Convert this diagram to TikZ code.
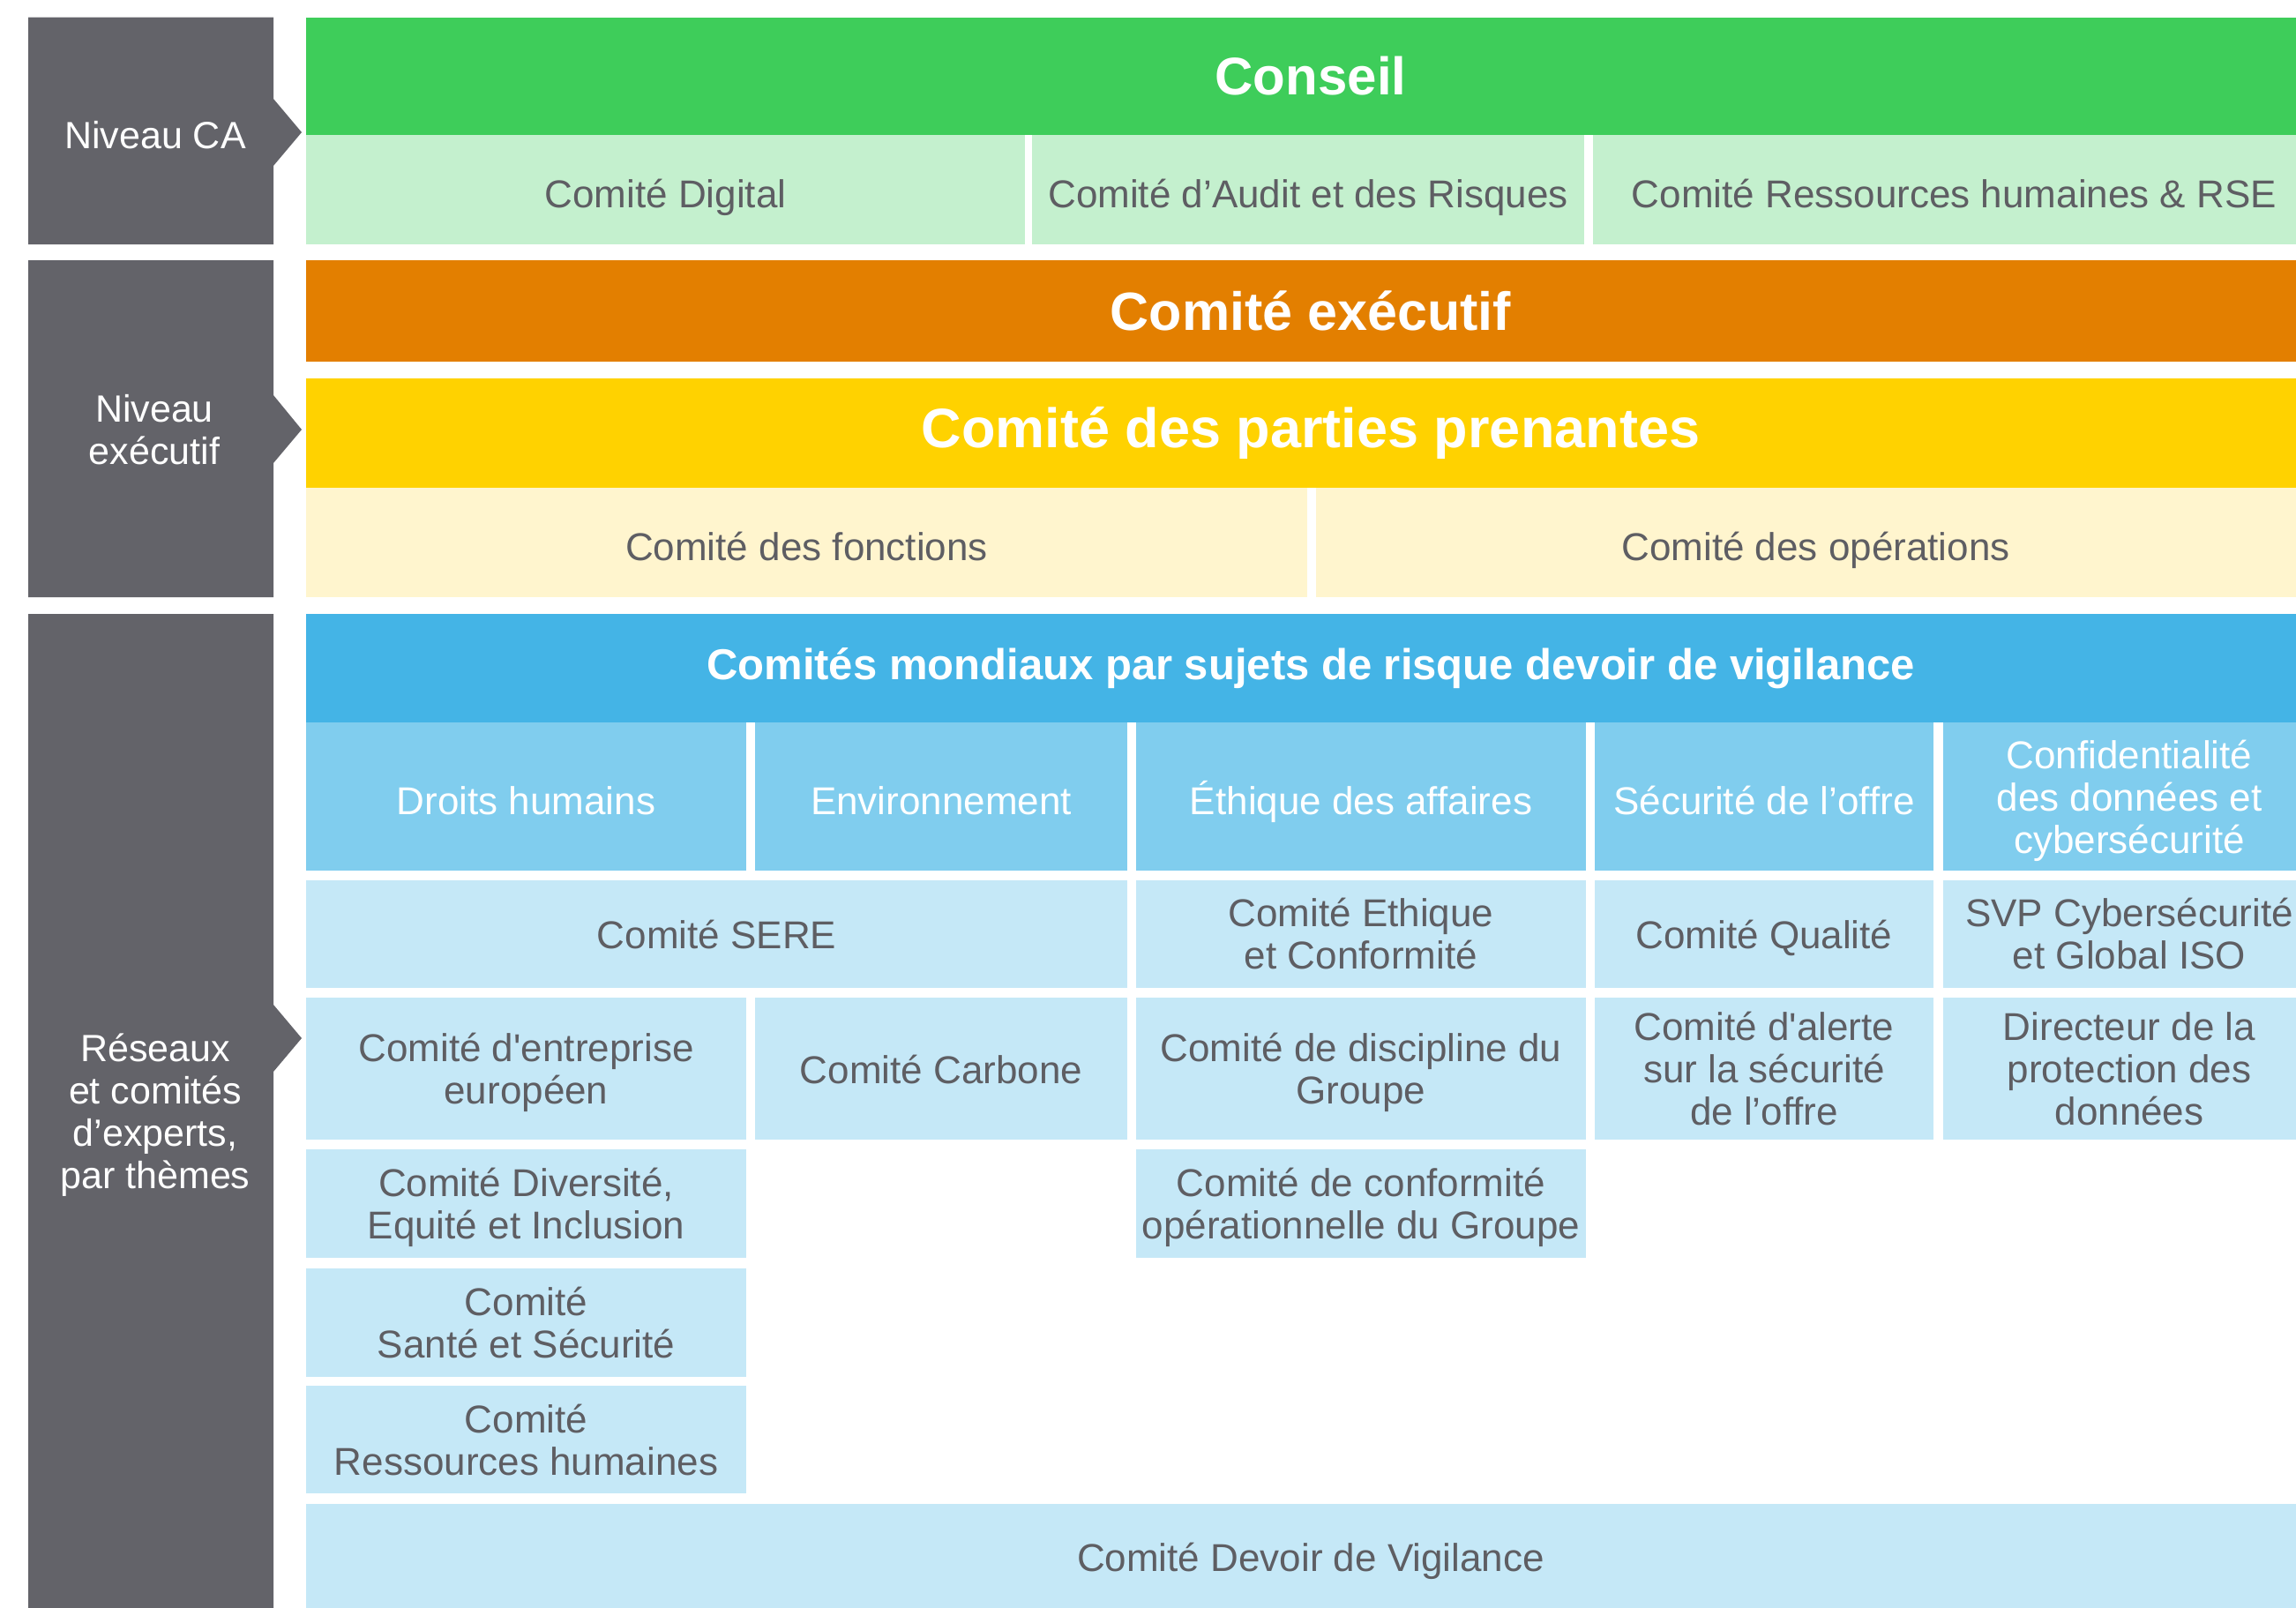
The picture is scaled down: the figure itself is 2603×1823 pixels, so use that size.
\documentclass[tikz,border=0pt]{standalone}
\usepackage{fontspec}
\setmainfont{Liberation Sans}
\definecolor{greybox}{HTML}{636369}
\definecolor{txtgrey}{HTML}{5E5E63}
\definecolor{cgreen}{HTML}{3ECD5A}
\definecolor{cgreenl}{HTML}{C4F0CE}
\definecolor{corange}{HTML}{E37F00}
\definecolor{cyellow}{HTML}{FFD200}
\definecolor{cyellowl}{HTML}{FFF5CE}
\definecolor{cblue}{HTML}{44B4E6}
\definecolor{cbluem}{HTML}{80CDEE}
\definecolor{cbluel}{HTML}{C5E8F7}
\tikzset{
  cellbase/.style={inner sep=0pt, outer sep=0pt, align=center, draw=none},
  lightcell/.style={cellbase, text=txtgrey, font=\fontsize{44}{48}\selectfont},
  headcell/.style={cellbase, fill=cbluem, text=white, font=\fontsize{44}{48}\selectfont},
  titlecell/.style={cellbase, text=white, font=\bfseries\fontsize{60}{66}\selectfont},
  greylabel/.style={inner sep=0pt, align=center, text=white, font=\fontsize{43}{48}\selectfont},
  oneline/.style={text height=41pt, text depth=0pt},
  onelinelow/.style={text height=33pt, text depth=0pt},
  nodepth/.style={text depth=0pt},
}
% name, x1, y1, x2, y2, style, text
\newcommand\cellnode[7]{\node[#6, minimum width={#4-#2}, minimum height={#5-#3}] (#1) at ({(#2+#4)/2},{(#3+#5)/2}) {#7};}
\begin{document}
\begin{tikzpicture}[x=1pt,y=-1pt]
\useasboundingbox (0,0) rectangle (2603,1823);
\clip (0,0) rectangle (2603,1823);
% grey level column
\fill[greybox] (32,19.5) -- (310,19.5) -- (310,112) -- (342,150) -- (310,188) -- (310,277) -- (32,277) -- cycle;
\fill[greybox] (32,295) -- (310,295) -- (310,448) -- (342,487) -- (310,525) -- (310,677) -- (32,677) -- cycle;
\fill[greybox] (32,696) -- (310,696) -- (310,1139) -- (342,1177) -- (310,1215) -- (310,1830) -- (32,1830) -- cycle;
\node[greylabel] (lvlca) at (176,153.5) {Niveau CA};
\node[greylabel] (lvlexec) at (175,487) {Niveau\\exécutif};
\node[greylabel] (lvlnet) at (176,1264.5) {Réseaux\\et comités\\d’experts,\\par thèmes};
% Board level
\cellnode{conseil}{347}{20}{2625}{153}{titlecell, fill=cgreen}{Conseil}
\cellnode{digital}{347}{153}{1162}{277}{lightcell, oneline, fill=cgreenl}{Comité Digital}
\cellnode{audit}{1170}{153}{1796}{277}{lightcell, oneline, fill=cgreenl}{Comité d’Audit et des Risques}
\cellnode{rhrse}{1806}{153}{2625}{277}{lightcell, oneline, fill=cgreenl}{Comité Ressources humaines \& RSE}
% Executive level
\cellnode{comex}{347}{295}{2625}{410}{titlecell, fill=corange, font=\bfseries\fontsize{61}{66}\selectfont}{Comité exécutif}
\cellnode{cpp}{347}{429}{2625}{553}{titlecell, fill=cyellow, font=\bfseries\fontsize{63}{66}\selectfont}{Comité des parties prenantes}
\cellnode{fonctions}{347}{553}{1482}{677}{lightcell, oneline, fill=cyellowl}{Comité des fonctions}
\cellnode{operations}{1492}{553}{2625}{677}{lightcell, oneline, fill=cyellowl}{Comité des opérations}
% Networks level
\cellnode{mondial}{347}{696}{2625}{819}{titlecell, fill=cblue, font=\bfseries\fontsize{49}{54}\selectfont}{Comités mondiaux par sujets de risque devoir de vigilance}
\cellnode{hdroits}{347}{819}{846}{987}{headcell, oneline}{Droits humains}
\cellnode{henv}{856}{819}{1278}{987}{headcell, oneline}{Environnement}
\cellnode{hethique}{1288}{819}{1798}{987}{headcell, oneline}{Éthique des affaires}
\cellnode{hsecu}{1808}{819}{2192}{987}{headcell, oneline}{Sécurité de l’offre}
\cellnode{hconf}{2203}{819}{2625}{987}{headcell, nodepth}{Confidentialité\\des données et\\cybersécurité}
% row SERE
\cellnode{sere}{347}{998}{1278}{1120}{lightcell, onelinelow, fill=cbluel}{Comité SERE}
\cellnode{ethique}{1288}{998}{1798}{1120}{lightcell, fill=cbluel}{Comité Ethique\\et Conformité}
\cellnode{qualite}{1808}{998}{2192}{1120}{lightcell, onelinelow, fill=cbluel}{Comité Qualité}
\cellnode{svp}{2203}{998}{2625}{1120}{lightcell, fill=cbluel}{SVP Cybersécurité\\et Global ISO}
% row 3
\cellnode{entreprise}{347}{1131}{846}{1292}{lightcell, nodepth, fill=cbluel}{Comité d\textquotesingle entreprise\\européen}
\cellnode{carbone}{856}{1131}{1278}{1292}{lightcell, onelinelow, fill=cbluel}{Comité Carbone}
\cellnode{discipline}{1288}{1131}{1798}{1292}{lightcell, nodepth, fill=cbluel}{Comité de discipline du\\Groupe}
\cellnode{alerte}{1808}{1131}{2192}{1292}{lightcell, fill=cbluel}{Comité d\textquotesingle alerte\\sur la sécurité\\de l’offre}
\cellnode{dpo}{2203}{1131}{2625}{1292}{lightcell, fill=cbluel}{Directeur de la\\protection des\\données}
% row 4
\cellnode{diversite}{347}{1303}{846}{1426}{lightcell, nodepth, fill=cbluel}{Comité Diversité,\\Equité et Inclusion}
\cellnode{conformite}{1288}{1303}{1798}{1426}{lightcell, nodepth, fill=cbluel}{Comité de conformité\\opérationnelle du Groupe}
% row 5
\cellnode{sante}{347}{1438}{846}{1561}{lightcell, fill=cbluel}{Comité\\Santé et Sécurité}
% row 6
\cellnode{rhcomite}{347}{1571}{846}{1693}{lightcell, fill=cbluel}{Comité\\Ressources humaines}
% bottom
\cellnode{devoir}{347}{1705}{2625}{1825}{lightcell, onelinelow, fill=cbluel}{Comité Devoir de Vigilance}
\end{tikzpicture}
\end{document}
